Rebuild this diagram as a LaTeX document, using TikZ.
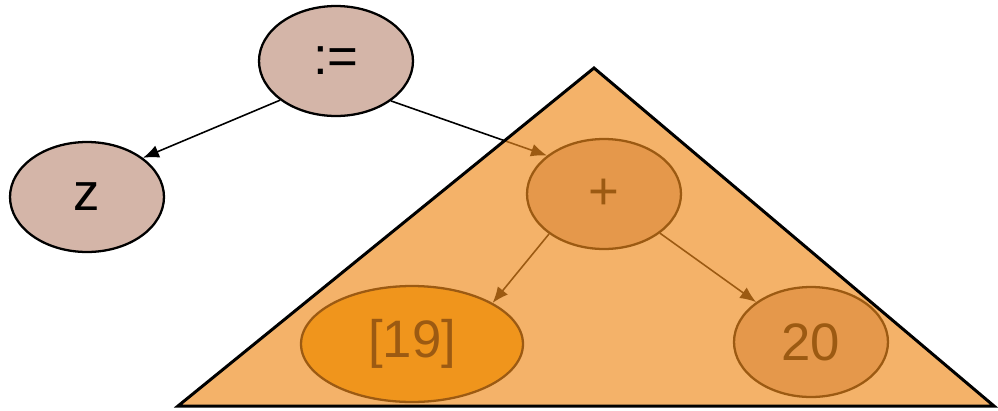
\documentclass[tikz,border=0pt]{standalone}
\usepackage{fontspec}
\setmainfont{Liberation Sans}
\usetikzlibrary{shapes.geometric, arrows.meta}
\definecolor{nodefill}{RGB}{212,181,168}
\definecolor{listfill}{RGB}{245,172,30}
\definecolor{treefill}{RGB}{238,138,28}
\begin{document}
\begin{tikzpicture}[x=0.02cm, y=-0.02cm,
  astnode/.style={ellipse, draw, line width=1.3pt, fill=nodefill, inner sep=0pt,
    minimum width=3.08cm, minimum height=2.2cm, font=\fontsize{30}{34}\selectfont},
  link/.style={-{Latex[length=0.32cm, width=0.26cm]}, line width=0.9pt}]
  \useasboundingbox (0,0) rectangle (998,410);
  \node[astnode] (assign) at (336,61) {:=};
  \node[astnode] (z) at (87,197) {z};
  \node[astnode] (plus) at (604,194) {+};
  \node[astnode, fill=listfill, minimum width=4.44cm, minimum height=2.32cm] (lst) at (412,344) {[19]};
  \node[astnode] (twenty) at (811,342) {20};
  \draw[link] (assign.215) -- (z.35);
  \draw[link] (assign.324) -- (plus.146);
  \draw[link] (plus.216) -- (lst.27);
  \draw[link] (plus.325) -- (twenty.144);
  % subtree shading
  \draw[line width=1.7pt, fill=treefill, fill opacity=0.66] (594,68) -- (994,406) -- (178,406) -- cycle;
\end{tikzpicture}
\end{document}
